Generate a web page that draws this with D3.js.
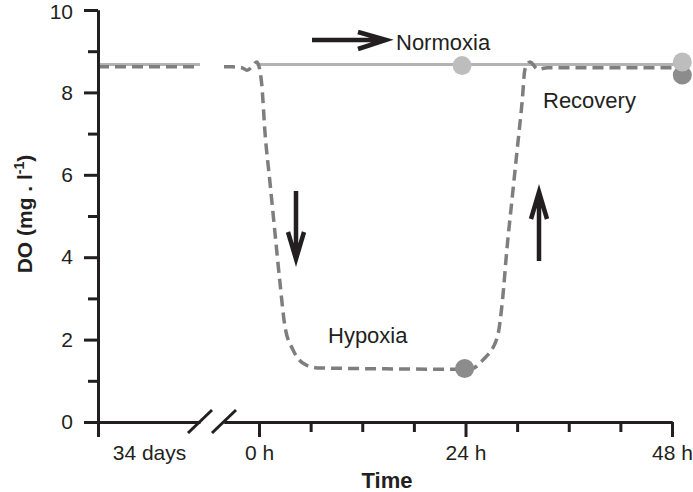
<!DOCTYPE html>
<html>
<head>
<meta charset="utf-8">
<script src="https://cdn.jsdelivr.net/npm/d3@7"></script>
<style>
  body { margin: 0; background: #fff; }
  svg { display: block; font-family: "Liberation Sans", Arial, sans-serif; }
  .axis path, .axis line { stroke: #231f20; stroke-width: 3; }
  .axis text { font-size: 21px; fill: #231f20; font-family: "Liberation Sans", Arial, sans-serif; }
</style>
</head>
<body>
<svg></svg>
<script>
// acclimation period before the break (34 days), fraction of the shown segment
let preX = [0, 1]
let preNormoxia = [8.68, 8.68]
let preHypoxia = [8.62, 8.62]

// experiment, hours
let normoxiaHours = [-0.3, 49.2]
let normoxiaDO = [8.68, 8.68]

let hypoxiaHours = [-4.07, -3, -2, -1.4, -0.8, -0.25, 0.3, 0.7, 1.28, 1.86, 2.44, 3.02, 3.95, 5.5, 7.1, 24.5, 26.0, 27.7, 28.3, 28.8, 29.4, 30.0, 30.6, 30.9, 31.5, 32.4, 33.5, 48]
let hypoxiaDO = [8.62, 8.62, 8.6, 8.54, 8.62, 8.74, 8.23, 7.01, 5.8, 4.58, 3.37, 2.31, 1.75, 1.38, 1.31, 1.28, 1.5, 2.06, 2.96, 4.17, 5.39, 6.6, 7.82, 8.55, 8.74, 8.56, 8.6, 8.6]

// measured points
let dotHours = [23.9, 49.2, 23.6, 49.2]
let dotDO = [1.3, 8.42, 8.65, 8.74]
let dotGroup = ['hyp', 'hyp', 'norm', 'norm']

let yTicks = [0, 2, 4, 6, 8, 10]
let yMinor = [1, 3, 5, 7, 9]
let hourTicks = [0, 24, 48]
let hourLabels = ['0 h', '24 h', '48 h']
let hourMinor = [6, 12, 18, 30, 36, 42]
let preLabel = '34 days'

let width = 693
let height = 492

let svg = d3.select('svg').attr('width', width).attr('height', height)

let yScale = d3.scaleLinear().domain([0, 10]).range([422, 10])
let xPre = d3.scaleLinear().domain([0, 1]).range([98, 200])
let xHour = d3.scaleLinear().domain([-4.07, 48]).range([224, 672])

let ink = '#231f20'
let lightGrey = '#b3b3b3'
let darkGrey = '#7e7e7e'

// lines
let line = (xs) => d3.line()
    .x((d) => xs(d[0]))
    .y((d) => yScale(d[1]))

svg.append('path')
    .datum(d3.zip(preX, preNormoxia))
    .attr('d', line(xPre))
    .attr('fill', 'none').attr('stroke', lightGrey).attr('stroke-width', 3)
svg.append('path')
    .datum(d3.zip(normoxiaHours, normoxiaDO))
    .attr('d', line(xHour))
    .attr('fill', 'none').attr('stroke', lightGrey).attr('stroke-width', 3)

svg.append('path')
    .datum(d3.zip(preX, preHypoxia))
    .attr('d', line(xPre))
    .attr('fill', 'none').attr('stroke', darkGrey).attr('stroke-width', 3.5)
    .attr('stroke-dasharray', '11,6')
svg.append('path')
    .datum(d3.zip(hypoxiaHours, hypoxiaDO))
    .attr('d', line(xHour).curve(d3.curveMonotoneX))
    .attr('fill', 'none').attr('stroke', darkGrey).attr('stroke-width', 3.5)
    .attr('stroke-dasharray', '11,6')

// dots
svg.selectAll('circle.dot')
    .data(d3.zip(dotHours, dotDO, dotGroup))
    .enter()
    .append('circle')
    .attr('class', 'dot')
    .attr('cx', (d) => xHour(d[0]))
    .attr('cy', (d) => yScale(d[1]))
    .attr('r', 9.5)
    .attr('fill', (d) => d[2] == 'hyp' ? '#8c8c8c' : '#bdbdbd')

// y axis
let yAxis = d3.axisLeft(yScale).tickValues(yTicks).tickSize(14).tickSizeOuter(0).tickPadding(11)
let yAxisMinor = d3.axisLeft(yScale).tickValues(yMinor).tickSize(10).tickSizeOuter(0).tickFormat('')
svg.append('g').attr('class', 'axis').attr('transform', 'translate(98,0)').call(yAxisMinor)
let yG = svg.append('g').attr('class', 'axis').attr('transform', 'translate(98,0)').call(yAxis)
yG.selectAll('text').filter((d) => d == 10).attr('dy', '0.4em')

// x axis, before the break
let preAxis = d3.axisBottom(xPre).tickValues([0]).tickSize(15).tickSizeOuter(0).tickPadding(8)
    .tickFormat(() => preLabel)
let preG = svg.append('g').attr('class', 'axis').attr('transform', 'translate(0,422)').call(preAxis)
preG.selectAll('text').attr('x', xPre(0.5) - xPre(0))

// x axis, hours
let hourMinorAxis = d3.axisBottom(xHour).tickValues(hourMinor).tickSize(10).tickSizeOuter(0).tickFormat('')
let hourAxis = d3.axisBottom(xHour).tickValues(hourTicks).tickSize(15).tickSizeOuter(0).tickPadding(8)
    .tickFormat((d, i) => hourLabels[i])
svg.append('g').attr('class', 'axis').attr('transform', 'translate(0,422)').call(hourMinorAxis)
svg.append('g').attr('class', 'axis').attr('transform', 'translate(0,422)').call(hourAxis)

// break marks
;[xPre(1), xHour(-4.07)].forEach((bx) => {
    svg.append('line')
        .attr('x1', bx - 12).attr('y1', 433)
        .attr('x2', bx + 12).attr('y2', 410)
        .attr('stroke', ink).attr('stroke-width', 3)
})

// axis titles
svg.append('text')
    .attr('x', 387).attr('y', 488)
    .attr('text-anchor', 'middle')
    .attr('font-size', 22).attr('font-weight', 'bold').attr('fill', ink)
    .text('Time')

let yt = svg.append('text')
    .attr('transform', 'translate(32,214) rotate(-90)')
    .attr('text-anchor', 'middle')
    .attr('font-size', 21).attr('font-weight', 'bold').attr('fill', ink)
yt.append('tspan').text('DO (mg . l')
yt.append('tspan').attr('font-size', 14).attr('dy', -8).text('-1')
yt.append('tspan').attr('dy', 8).text(')')

// annotations
let labels = [
    { t: 'Normoxia', x: 396, y: 50 },
    { t: 'Recovery', x: 543, y: 108 },
    { t: 'Hypoxia', x: 328, y: 343 }
]
svg.selectAll('text.note')
    .data(labels)
    .enter()
    .append('text')
    .attr('class', 'note')
    .attr('x', (d) => d.x).attr('y', (d) => d.y)
    .attr('font-size', 22).attr('fill', ink)
    .text((d) => d.t)

let arrows = [
    'M312,40 L386,40 M358,32 L386,40 L358,49',
    'M296,191 L296,259 M288,232 L296,259 L304,232',
    'M539,261 L539,192 M531,219 L539,192 L547,219'
]
svg.selectAll('path.arrow')
    .data(arrows)
    .enter()
    .append('path')
    .attr('class', 'arrow')
    .attr('d', (d) => d)
    .attr('fill', 'none')
    .attr('stroke', ink)
    .attr('stroke-width', 4.5)
    .attr('stroke-linejoin', 'miter')
</script>
</body>
</html>
